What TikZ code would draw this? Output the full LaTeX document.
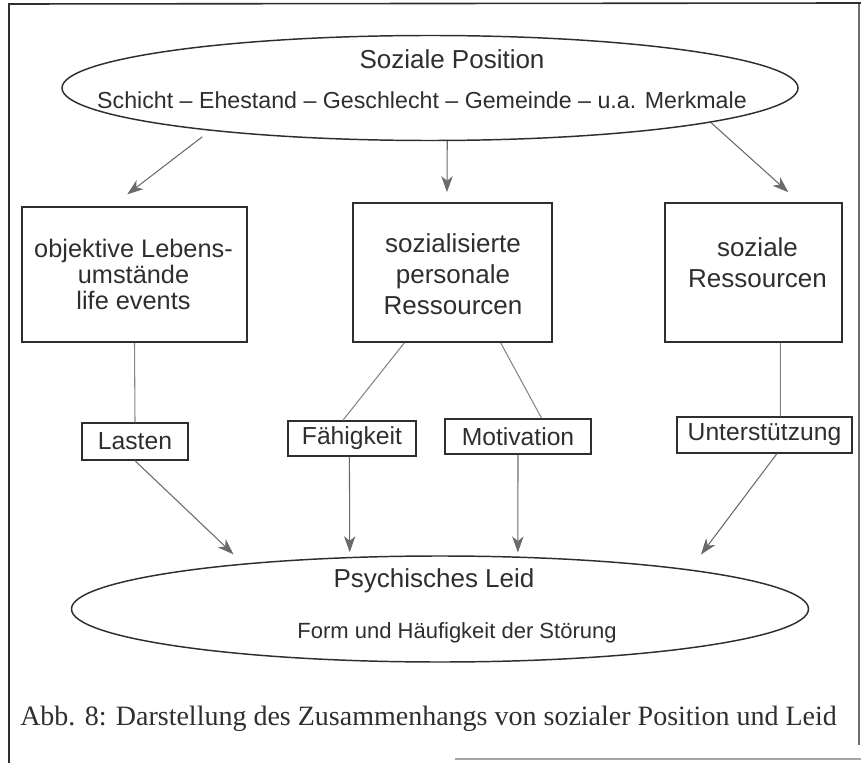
\documentclass[tikz,border=0pt]{standalone}
\usepackage{fontspec}
\setmainfont{Liberation Serif}
\setsansfont{Liberation Sans}
\usetikzlibrary{calc,shapes.geometric,arrows.meta}
\definecolor{ink}{HTML}{2E2E2E}
\definecolor{wiregray}{HTML}{858585}
\definecolor{tipgray}{HTML}{6A6A6A}
\begin{document}
\begin{tikzpicture}[x=0.75pt,y=-0.75pt,
  font=\sffamily, text=ink,
  oval/.style={ellipse, draw=ink, line width=1.1pt, inner sep=0pt},
  panel/.style={draw=ink, line width=1.2pt, inner sep=0pt},
  tag/.style={draw=ink, line width=1.1pt, inner sep=0pt,
    font=\sffamily\fontsize{18.5}{20}\selectfont},
  plain/.style={inner sep=0pt, align=center},
  wire/.style={draw=wiregray, line width=0.8pt},
  arr/.style={wire, -{Stealth[length=12pt,width=8.5pt,inset=3.5pt,fill=tipgray]}, tipgray}
]
\useasboundingbox (0,0) rectangle (861,763);

% page frame
\draw[ink, line width=1.2pt] (9,763) -- (9,4) -- (861,3);
\draw[ink!70, line width=1pt] (859,4) -- (859,745);
\draw[black!35, line width=1pt] (455,759) -- (861,759);

% top ellipse
\node[oval, minimum width=552pt, minimum height=78.75pt] (top) at (430,88) {};
\node[plain, font=\sffamily\fontsize{19.5}{22}\selectfont] (toptitle) at (452,59) {Soziale Position};
\node[plain, font=\sffamily\fontsize{17.4}{20}\selectfont] (topsub) at (422,100)
  {Schicht -- Ehestand -- Geschlecht -- Gemeinde -- u.a. Merkmale};

% three boxes
\node[panel, minimum width=168.75pt, minimum height=101.25pt] (lbox) at (134.5,274.5) {};
\node[panel, minimum width=149.25pt, minimum height=104.25pt] (mbox) at (452.5,272.5) {};
\node[panel, minimum width=132.75pt, minimum height=104.25pt] (rbox) at (753.5,272.5) {};
\node[plain, font=\sffamily\fontsize{19}{19.5}\selectfont] (ltext) at (133.5,274)
  {objektive Lebens-\\umstände\\life events};
\node[plain, font=\sffamily\fontsize{19.5}{23.25}\selectfont] (mtext) at (453,274)
  {sozialisierte\\personale\\Ressourcen};
\node[plain, font=\sffamily\fontsize{19.5}{23.25}\selectfont] (rtext) at (757.5,262.5)
  {soziale\\Ressourcen};

% small labels
\node[tag, minimum width=79.5pt, minimum height=27.75pt] (lasten) at (135,441.5) {Lasten};
\node[tag, minimum width=96pt, minimum height=26.25pt] (fah) at (352,438.5) {Fähigkeit};
\node[tag, minimum width=109.5pt, minimum height=26.25pt] (mot) at (518,436.5) {Motivation};
\node[tag, minimum width=131.25pt, minimum height=27pt] (unt) at (764.5,435) {Unterstützung};

% bottom ellipse
\node[oval, minimum width=552.75pt, minimum height=79.5pt] (bot) at (440,609) {};
\node[plain, font=\sffamily\fontsize{19.5}{22}\selectfont] (bottitle) at (434,581) {Psychisches Leid};
\node[plain, font=\sffamily\fontsize{16.5}{20}\selectfont] (botsub) at (457,633)
  {Form und Häufigkeit der Störung};

% caption
\node[inner sep=0pt, anchor=base west, text=ink,
  font=\rmfamily\fontsize{21}{25}\selectfont] (caption) at (20,725)
  {Abb. 8: Darstellung des Zusammenhangs von sozialer Position und Leid};

% arrows from the social position
\draw[arr, shorten <=7.5pt, shorten >=14.6pt] (top.191.9) -- ($(lbox.north west)!0.4!(lbox.north east)$);
\draw[arr, shorten >=7.5pt] (top.288) -- ($(mbox.north west)!0.472!(mbox.north east)$);
\draw[arr, shorten >=11.2pt] (top.353.06) -- ($(rbox.north west)!0.757!(rbox.north east)$);

% boxes to labels
\draw[wire] (lbox.south) -- (lasten.north);
\draw[wire] ($(mbox.south west)!0.26!(mbox.south east)$) -- ($(fah.north west)!0.43!(fah.north east)$);
\draw[wire] ($(mbox.south west)!0.74!(mbox.south east)$) -- ($(mot.north west)!0.66!(mot.north east)$);
\draw[wire] ($(rbox.south west)!0.65!(rbox.south east)$) -- ($(unt.north west)!0.59!(unt.north east)$);

% labels to suffering
\draw[arr, shorten >=10pt] (lasten.south) -- (bot.167.3);
\draw[arr, shorten >=3.5pt] ($(fah.south west)!0.48!(fah.south east)$) -- (bot.150.6);
\draw[arr, shorten >=3pt] (mot.south) -- (bot.34.3);
\draw[arr, shorten >=14pt] ($(unt.south west)!0.57!(unt.south east)$) -- (bot.9.0);
\end{tikzpicture}
\end{document}
